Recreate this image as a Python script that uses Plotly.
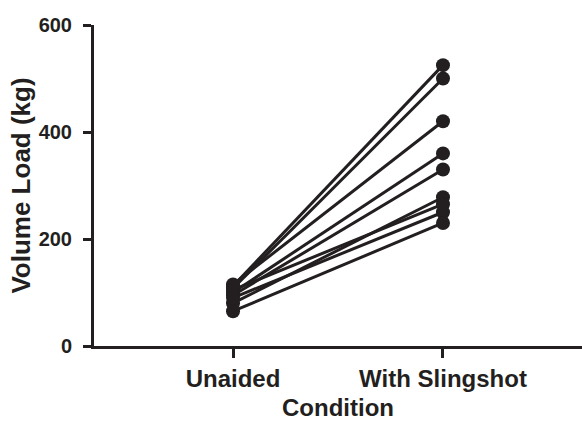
import plotly.graph_objects as go

conditions = ["Unaided", "With Slingshot"]
unaided = [112, 108, 115, 100, 95, 80, 105, 90, 65]
slingshot = [525, 500, 420, 360, 330, 278, 265, 250, 230]
y_ticks = [0, 200, 400, 600]

INK = "#231f20"
FONT = "Liberation Sans, Arial, sans-serif"

fig = go.Figure()
for u, s in zip(unaided, slingshot):
    fig.add_trace(go.Scatter(
        x=conditions, y=[u, s], mode="lines+markers",
        line=dict(color=INK, width=3),
        marker=dict(color=INK, size=14),
        cliponaxis=False, showlegend=False, hoverinfo="skip",
    ))

fig.update_layout(
    width=582, height=421,
    margin=dict(l=94, r=0, t=25, b=75),
    plot_bgcolor="white", paper_bgcolor="white",
    font=dict(family=FONT, color=INK),
)
fig.update_xaxes(
    type="category", range=[-0.662, 1.662],
    showline=True, linecolor=INK, linewidth=3,
    ticks="outside", ticklen=9, tickwidth=3, tickcolor=INK,
    showgrid=False, zeroline=False,
    tickfont=dict(size=24, family=FONT, color=INK, weight="bold"),
    title=dict(text="<b>Condition</b>", font=dict(size=24, family=FONT, color=INK), standoff=10),
)
fig.update_yaxes(
    range=[0, 600], tickvals=y_ticks, ticktext=[str(v) for v in y_ticks],
    showline=True, linecolor=INK, linewidth=3,
    ticks="outside", ticklen=8, tickwidth=3, tickcolor=INK,
    ticklabelstandoff=7,
    showgrid=False, zeroline=False,
    tickfont=dict(size=20, family=FONT, color=INK, weight="bold"),
    title=dict(text="<b>Volume Load (kg)</b>", font=dict(size=26, family=FONT, color=INK), standoff=1),
)

fig.write_html("out.html", config={"displayModeBar": False},
               post_script="document.body.style.margin='0px';")
